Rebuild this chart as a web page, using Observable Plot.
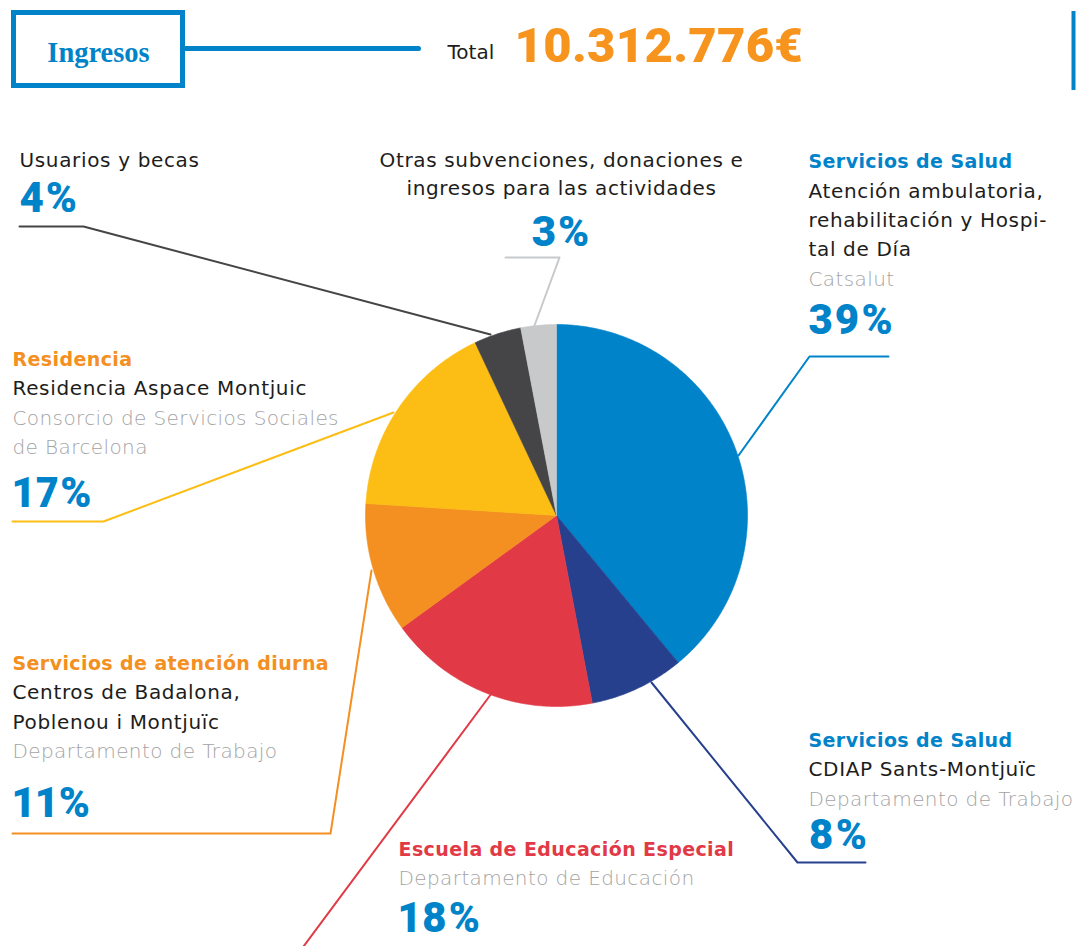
<!DOCTYPE html>
<html>
<head>
<meta charset="utf-8">
<script src="https://cdn.jsdelivr.net/npm/d3@7"></script>
<script src="https://cdn.jsdelivr.net/npm/@observablehq/plot@0.6"></script>
<style>
  html, body { margin: 0; padding: 0; background: #ffffff; }
  g[aria-description="heading-text"] text { letter-spacing: 0.4px; }
  g[aria-description="body-text"] text { letter-spacing: 0.65px; }
  g[aria-description="funder-text"] text { letter-spacing: 0.4px; }
  g[aria-description="pct-text"] text { letter-spacing: 2px; font-variant-numeric: proportional-nums; }
  g[aria-description="total-value"] text { letter-spacing: 0.3px; }
</style>
</head>
<body>
<div id="chart"></div>
<script>
// ---------- DATA ----------
const categories = [
  "Servicios de Salud – Catsalut",
  "Servicios de Salud – CDIAP",
  "Escuela de Educación Especial",
  "Servicios de atención diurna",
  "Residencia",
  "Usuarios y becas",
  "Otras subvenciones"
];
const values = [39, 8, 18, 11, 17, 4, 3];
const headings = [
  "Servicios de Salud",
  "Servicios de Salud",
  "Escuela de Educación Especial",
  "Servicios de atención diurna",
  "Residencia",
  "",
  ""
];
const descriptions = [
  ["Atención ambulatoria,", "rehabilitación y Hospi-", "tal de Día"],
  ["CDIAP Sants-Montjuïc"],
  [],
  ["Centros de Badalona,", "Poblenou i Montjuïc"],
  ["Residencia Aspace Montjuic"],
  ["Usuarios y becas"],
  ["Otras subvenciones, donaciones e", "ingresos para las actividades"]
];
const funders = [
  ["Catsalut"],
  ["Departamento de Trabajo"],
  ["Departamento de Educación"],
  ["Departamento de Trabajo"],
  ["Consorcio de Servicios Sociales", "de Barcelona"],
  [],
  []
];
const titleText = "Ingresos";
const totalPrefix = "Total";
const totalValue = "10.312.776€";

// ---------- STYLE ----------
const sliceColors = ["#0083c9", "#26408e", "#e13a46", "#f48f21", "#fcbd14", "#454547", "#c8c9cb"];
const headingColors = ["#0083c9", "#0083c9", "#e13a46", "#f48f21", "#f48f21", null, null];
const blue = "#0083c9";
const orange = "#f7941d";
const bodyColor = "#1d1d1b";
const funderColor = "#a3a3a3";
const sans = "DejaVu Sans, sans-serif";
const numFont = "Roboto, sans-serif";

// ---------- LAYOUT ----------
const W = 1077, H = 946;
const pieGeom = {cx: 556, cy: 515, r: 191};
const layout = [
  {x: 808, anchor: "start", heading: 167, desc: [197, 226, 255], funder: [285], pct: 333,
   leader: [[888, 356], [809, 356], [738, 455]]},
  {x: 808, anchor: "start", heading: 746, desc: [775], funder: [805], pct: 848,
   leader: [[651, 682], [797, 862], [865, 862]]},
  {x: 398, anchor: "start", heading: 855, desc: [], funder: [884], pct: 931,
   leader: [[491, 693], [300, 950]]},
  {x: 12, anchor: "start", heading: 669, desc: [698, 728], funder: [757], pct: 816,
   leader: [[12, 833], [330, 833], [371, 570]]},
  {x: 12, anchor: "start", heading: 365, desc: [394], funder: [424, 453], pct: 506,
   leader: [[12, 521], [103, 521], [393, 412]]},
  {x: 19, anchor: "start", heading: null, desc: [166], funder: [], pct: 211,
   leader: [[19, 226], [83, 226], [490, 334]]},
  {x: 561, anchor: "middle", heading: null, desc: [166, 194], funder: [], pct: 245,
   leader: [[505, 257], [559, 257], [534, 325]]}
];
const header = {
  box: {x1: 13.5, x2: 182.5, y1: 12.5, y2: 85.5},
  rule: [[182, 48], [418, 48]],
  title: {x: 98, y: 61},
  totalLabel: {x: 447, y: 58},
  totalValue: {x: 514, y: 61},
  sideRule: {x: 1073, y1: 11, y2: 90}
};

// ---------- BUILD ----------
const arcs = d3.pie().sort(null).value(d => d)(values);
const slicePts = [];
arcs.forEach((a, i) => {
  const cat = categories[i];
  slicePts.push({cat, x: pieGeom.cx, y: pieGeom.cy});
  const n = Math.max(2, Math.ceil((a.endAngle - a.startAngle) / (Math.PI / 360)));
  for (let k = 0; k <= n; k++) {
    const t = a.startAngle + (a.endAngle - a.startAngle) * k / n;
    slicePts.push({cat, x: pieGeom.cx + pieGeom.r * Math.sin(t), y: pieGeom.cy - pieGeom.r * Math.cos(t)});
  }
  slicePts.push({cat, x: pieGeom.cx, y: pieGeom.cy});
});

const leaderPts = [];
layout.forEach((L, i) => L.leader.forEach(([x, y]) => leaderPts.push({cat: categories[i], x, y})));

const marks = [];

// header
marks.push(Plot.rect([header.box], {x1: "x1", x2: "x2", y1: "y1", y2: "y2", fill: "none", stroke: blue, strokeWidth: 5}));
marks.push(Plot.line(header.rule.map(([x, y]) => ({x, y})), {x: "x", y: "y", stroke: blue, strokeWidth: 5}));
marks.push(Plot.ruleX([header.sideRule], {x: "x", y1: "y1", y2: "y2", stroke: blue, strokeWidth: 4}));
marks.push(Plot.text([titleText], {x: header.title.x, y: header.title.y, text: d => d, textAnchor: "middle", lineAnchor: "bottom",
  fontFamily: "Liberation Serif, serif", fontWeight: "bold", fontSize: 28.5, fill: blue}));
marks.push(Plot.text([totalPrefix], {x: header.totalLabel.x, y: header.totalLabel.y, text: d => d, textAnchor: "start", lineAnchor: "bottom",
  fontFamily: sans, fontSize: 20, fill: bodyColor}));
marks.push(Plot.text([totalValue], {x: header.totalValue.x, y: header.totalValue.y, text: d => d, textAnchor: "start", lineAnchor: "bottom",
  fontFamily: numFont, fontWeight: 900, fontSize: 49, fill: orange, ariaDescription: "total-value"}));

// leader lines
marks.push(Plot.line(leaderPts, {x: "x", y: "y", z: "cat", stroke: "cat", strokeWidth: 2, curve: "linear"}));

// pie slices
marks.push(Plot.line(slicePts, {x: "x", y: "y", z: "cat", fill: "cat", stroke: "cat", strokeWidth: 0.6, curve: "linear"}));

// labels
const headingRows = [], bodyRows = [], funderRows = [], pctRows = [];
layout.forEach((L, i) => {
  if (L.heading != null && headings[i]) headingRows.push({x: L.x, y: L.heading, t: headings[i], a: L.anchor, c: headingColors[i]});
  descriptions[i].forEach((t, k) => bodyRows.push({x: L.x, y: L.desc[k], t, a: L.anchor}));
  funders[i].forEach((t, k) => funderRows.push({x: L.x, y: L.funder[k], t, a: L.anchor}));
  pctRows.push({x: L.x, y: L.pct, t: `${values[i]}%`, a: L.anchor});
});
for (const anchor of ["start", "middle"]) {
  const f = r => r.a === anchor;
  headingRows.filter(f).forEach(r => marks.push(Plot.text([r], {x: "x", y: "y", text: "t", textAnchor: anchor, lineAnchor: "bottom",
    fontFamily: sans, fontWeight: "bold", fontSize: 19, fill: r.c, ariaDescription: "heading-text"})));
  marks.push(Plot.text(bodyRows.filter(f), {x: "x", y: "y", text: "t", textAnchor: anchor, lineAnchor: "bottom",
    fontFamily: sans, fontSize: 20, fill: bodyColor, ariaDescription: "body-text"}));
  marks.push(Plot.text(funderRows.filter(f), {x: "x", y: "y", text: "t", textAnchor: anchor, lineAnchor: "bottom",
    fontFamily: sans, fontWeight: 200, fontSize: 20, fill: funderColor, ariaDescription: "funder-text"}));
  marks.push(Plot.text(pctRows.filter(f), {x: "x", y: "y", text: "t", textAnchor: anchor, lineAnchor: "bottom",
    fontFamily: numFont, fontWeight: 900, fontSize: 42, fill: blue, ariaDescription: "pct-text"}));
}

const chart = Plot.plot({
  width: W,
  height: H,
  margin: 0,
  x: {domain: [0, W], range: [0, W], axis: null},
  y: {domain: [0, H], range: [0, H], axis: null},
  color: {type: "ordinal", domain: categories, range: sliceColors},
  style: {background: "#ffffff"},
  marks
});
document.getElementById("chart").appendChild(chart);
</script>
</body>
</html>
